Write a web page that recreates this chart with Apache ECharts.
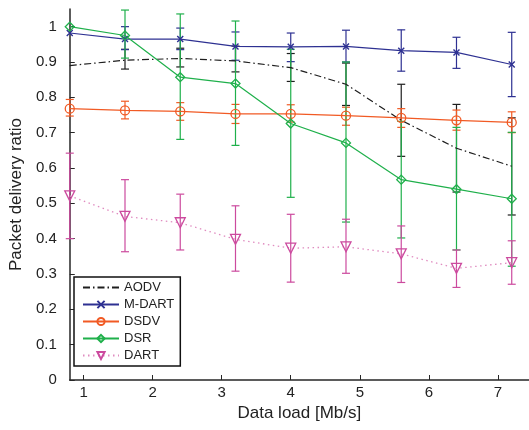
<!DOCTYPE html>
<html>
<head>
<meta charset="utf-8">
<script src="https://cdn.jsdelivr.net/npm/echarts@6/dist/echarts.min.js"></script>
<style>
html,body{margin:0;padding:0;background:#fff;}
#chart{width:529px;height:430px;}
</style>
</head>
<body>
<div id="chart"></div>
<script>
// ---- data ----
var xValues = [0.8, 1.6, 2.4, 3.2, 4.0, 4.8, 5.6, 6.4, 7.2];
var xTicks = [1, 2, 3, 4, 5, 6, 7];
var yTicks = [0, 0.1, 0.2, 0.3, 0.4, 0.5, 0.6, 0.7, 0.8, 0.9, 1];

var aodv   = [0.89, 0.905, 0.91, 0.903, 0.884, 0.837, 0.735, 0.656, 0.605];
var aodvLo = [null, 0.88, 0.886, 0.872, 0.845, 0.777, 0.633, 0.532, 0.467];
var aodvHi = [null, 0.936, 0.939, 0.945, 0.924, 0.897, 0.837, 0.780, 0.742];

var mdart   = [0.982, 0.965, 0.965, 0.944, 0.943, 0.944, 0.932, 0.927, 0.893];
var mdartLo = [null, 0.935, 0.935, 0.905, 0.901, 0.900, 0.874, 0.882, 0.802];
var mdartHi = [null, 1.0, 0.996, 0.985, 0.982, 0.990, 0.991, 0.970, 0.984];

var dsdv   = [0.768, 0.763, 0.760, 0.753, 0.753, 0.748, 0.742, 0.735, 0.729];
var dsdvLo = [0.747, 0.739, 0.735, 0.726, 0.730, 0.721, 0.715, 0.707, 0.700];
var dsdvHi = [0.794, 0.789, 0.785, 0.780, 0.779, 0.772, 0.768, 0.764, 0.759];

var dsr   = [1.0, 0.975, 0.857, 0.839, 0.726, 0.671, 0.567, 0.540, 0.513];
var dsrLo = [null, 0.911, 0.681, 0.664, 0.517, 0.447, 0.402, 0.368, 0.322];
var dsrHi = [null, 1.047, 1.036, 1.016, 0.936, 0.900, 0.732, 0.715, 0.701];

var dart   = [0.521, 0.463, 0.445, 0.398, 0.373, 0.377, 0.357, 0.316, 0.332];
var dartLo = [0.400, 0.363, 0.368, 0.308, 0.277, 0.302, 0.276, 0.262, 0.271];
var dartHi = [0.642, 0.567, 0.526, 0.493, 0.469, 0.455, 0.436, 0.368, 0.394];

var seriesNames = ['AODV', 'M-DART', 'DSDV', 'DSR', 'DART'];
// ---------------

var FONT = 'Liberation Sans, Arial, sans-serif';
var colors = {
  'AODV': '#1e1e1e',
  'M-DART': '#2e3192',
  'DSDV': '#f15a24',
  'DSR': '#1fb04b',
  'DART': '#cc4a9e'
};

function pairs(ys) { return xValues.map(function (x, i) { return [x, ys[i]]; }); }
function bars(lo, hi) {
  var out = [];
  xValues.forEach(function (x, i) { if (lo[i] != null && hi[i] != null) out.push([x, lo[i], hi[i]]); });
  return out;
}
function errRender(color) {
  return function (params, api) {
    var x = api.value(0), lo = api.value(1), hi = api.value(2);
    var p1 = api.coord([x, hi]), p2 = api.coord([x, lo]);
    var w = 4;
    var st = { stroke: color, lineWidth: 1.2, fill: null };
    return {
      type: 'group',
      children: [
        { type: 'line', shape: { x1: p1[0], y1: p1[1], x2: p2[0], y2: p2[1] }, style: st },
        { type: 'line', shape: { x1: p1[0] - w, y1: p1[1], x2: p1[0] + w, y2: p1[1] }, style: st },
        { type: 'line', shape: { x1: p2[0] - w, y1: p2[1], x2: p2[0] + w, y2: p2[1] }, style: st }
      ]
    };
  };
}
function errSeries(name, lo, hi) {
  return {
    type: 'custom',
    name: name + ' err',
    data: bars(lo, hi),
    encode: { x: 0, y: [1, 2] },
    renderItem: errRender(colors[name]),
    silent: true,
    z: 2
  };
}

var chart = echarts.init(document.getElementById('chart'), null, { renderer: 'canvas' });

var legendData = seriesNames.map(function (n) {
  return n === 'AODV' ? { name: n, itemStyle: { opacity: 0 } } : { name: n };
});

var option = {
  animation: false,
  backgroundColor: '#fff',
  grid: { left: 63, right: 0, top: 9, bottom: 50, containLabel: false },
  xAxis: {
    type: 'value',
    min: 0.8, max: 7.45,
    name: 'Data load [Mb/s]',
    nameLocation: 'middle',
    nameGap: 23,
    nameTextStyle: { fontFamily: FONT, fontSize: 17, color: '#222' },
    axisLine: { show: true, onZero: false, lineStyle: { color: '#262626', width: 1.5 } },
    axisTick: { show: true, inside: true, length: 5, customValues: xTicks, lineStyle: { color: '#262626' } },
    axisLabel: { customValues: xTicks, margin: 5, fontFamily: FONT, fontSize: 15, color: '#222' },
    splitLine: { show: false }
  },
  yAxis: {
    type: 'value',
    min: 0, max: 1.05,
    name: 'Packet delivery ratio',
    nameLocation: 'middle',
    nameGap: 33,
    nameTextStyle: { fontFamily: FONT, fontSize: 17, color: '#222' },
    axisLine: { show: true, onZero: false, lineStyle: { color: '#262626', width: 1.5 } },
    axisTick: { show: true, inside: true, length: 5, customValues: yTicks, lineStyle: { color: '#262626' } },
    axisLabel: { customValues: yTicks, margin: 13, fontFamily: FONT, fontSize: 15, color: '#222',
      formatter: function (v) { return String(Math.round(v * 10) / 10); } },
    splitLine: { show: false }
  },
  legend: {
    data: legendData,
    orient: 'vertical',
    left: 74, top: 277,
    itemWidth: 36, itemHeight: 9, itemGap: 4,
    padding: [4, 6, 4, 8],
    backgroundColor: '#fff',
    borderColor: '#111',
    borderWidth: 1.5,
    borderRadius: 0,
    textStyle: { fontFamily: FONT, fontSize: 13, color: '#222' }
  },
  series: [
    errSeries('AODV', aodvLo, aodvHi),
    errSeries('M-DART', mdartLo, mdartHi),
    errSeries('DSDV', dsdvLo, dsdvHi),
    errSeries('DSR', dsrLo, dsrHi),
    errSeries('DART', dartLo, dartHi),
    {
      type: 'line', name: 'AODV', data: pairs(aodv),
      symbol: 'none',
      lineStyle: { color: colors['AODV'], width: 1.2, type: [7, 3, 1.5, 3] },
      itemStyle: { color: colors['AODV'] }, z: 3
    },
    {
      type: 'line', name: 'M-DART', data: pairs(mdart),
      symbol: 'path://M0,0L10,10M10,0L0,10', symbolSize: 6,
      lineStyle: { color: colors['M-DART'], width: 1.2 },
      itemStyle: { color: 'rgba(0,0,0,0)', borderColor: colors['M-DART'], borderWidth: 1.4 }, z: 3
    },
    {
      type: 'line', name: 'DSDV', data: pairs(dsdv),
      symbol: 'circle', symbolSize: 9,
      lineStyle: { color: colors['DSDV'], width: 1.2 },
      itemStyle: { color: 'rgba(0,0,0,0)', borderColor: colors['DSDV'], borderWidth: 1.3 }, z: 3
    },
    {
      type: 'line', name: 'DSR', data: pairs(dsr),
      symbol: 'diamond', symbolSize: 9,
      lineStyle: { color: colors['DSR'], width: 1.2 },
      itemStyle: { color: 'rgba(0,0,0,0)', borderColor: colors['DSR'], borderWidth: 1.3 }, z: 3
    },
    {
      type: 'line', name: 'DART', data: pairs(dart),
      symbol: 'triangle', symbolRotate: 180, symbolSize: 10,
      lineStyle: { color: '#e08cc0', width: 1.3, type: [1.5, 3.5] },
      itemStyle: { color: 'rgba(0,0,0,0)', borderColor: colors['DART'], borderWidth: 1.3 }, z: 3
    }
  ]
};
chart.setOption(option);
</script>
</body>
</html>
